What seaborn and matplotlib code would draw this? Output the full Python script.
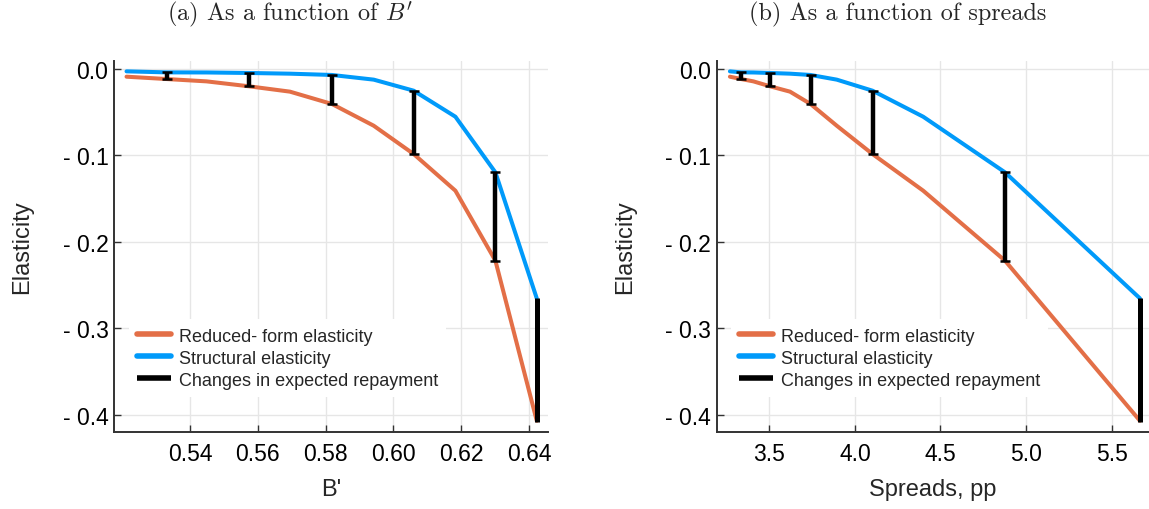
import numpy as np
import pandas as pd
import seaborn as sns
import matplotlib.pyplot as plt
from matplotlib.ticker import FuncFormatter

# values
b_prime = [0.5213, 0.5331, 0.5449, 0.5574, 0.5695, 0.5819, 0.5942, 0.6060, 0.6183, 0.6301, 0.6423]
spreads = [3.270, 3.335, 3.407, 3.504, 3.621, 3.741, 3.894, 4.103, 4.399, 4.877, 5.665]
reduced_form = [-0.0089, -0.0116, -0.0143, -0.0200, -0.0262, -0.0405, -0.0656, -0.0984, -0.1408, -0.2218, -0.4070]
structural = [-0.0027, -0.0039, -0.0040, -0.0046, -0.0054, -0.0069, -0.0123, -0.0251, -0.0552, -0.1196, -0.2654]
bar_idx = [1, 3, 5, 7, 9, 10]

titles = ["(a) As a function of $B'$", "(b) As a function of spreads"]
xlabels = ["B'", "Spreads, pp"]

sns.set_theme(style="white")
plt.rcParams['font.family'] = ['Liberation Sans', 'DejaVu Sans']
plt.rcParams['mathtext.fontset'] = 'cm'

colors = {
    'reduced': "#E36F47",
    'structural': "#009AFA",
    'bars': "black",
}

df = pd.DataFrame({
    'B': b_prime,
    'Spreads': spreads,
    'Reduced': reduced_form,
    'Structural': structural,
})

fig = plt.figure(figsize=(11.49, 5.10), dpi=100)
ax1 = fig.add_axes([0.0992, 0.151, 0.3777, 0.728])
ax2 = fig.add_axes([0.6238, 0.151, 0.3762, 0.728])

setup = [
    (ax1, 'B', (0.5176, 0.6456), [0.54, 0.56, 0.58, 0.60, 0.62, 0.64], "{:.2f}", 0.035),
    (ax2, 'Spreads', (3.193, 5.718), [3.5, 4.0, 4.5, 5.0, 5.5], "{:.1f}", 0.033),
]

for ax, xcol, xlim, xticks, fmt, leg_x in setup:
    sns.lineplot(data=df, x=xcol, y='Reduced', ax=ax, color=colors['reduced'],
                 linewidth=2.9, label='Reduced- form elasticity', sort=False)
    sns.lineplot(data=df, x=xcol, y='Structural', ax=ax, color=colors['structural'],
                 linewidth=2.9, label='Structural elasticity', sort=False)

    sub = df.iloc[bar_idx]
    capped = sub.iloc[:-1]
    last = sub.iloc[-1:]
    ax.errorbar(capped[xcol], capped['Reduced'],
                yerr=[np.zeros(len(capped)), capped['Structural'] - capped['Reduced']],
                fmt='none', ecolor=colors['bars'], elinewidth=3.2, capsize=3.5, capthick=1.8,
                zorder=4)
    ax.vlines(last[xcol], last['Reduced'] - 0.002, last['Structural'], color=colors['bars'],
              linewidth=3.6, zorder=4, label='Changes in expected repayment')

    ax.set_xlim(*xlim)
    ax.set_ylim(-0.420, 0.0096)
    ax.set_xticks(xticks)
    ax.set_yticks([0.0, -0.1, -0.2, -0.3, -0.4])
    ax.xaxis.set_major_formatter(FuncFormatter(lambda v, p, f=fmt: f.format(v)))
    ax.yaxis.set_major_formatter(FuncFormatter(lambda v, p: f"- {abs(v):.1f}" if v < -1e-9 else "0.0"))
    ax.tick_params(axis='both', direction='in', length=5, width=1, color='#333333',
                   labelsize=16.5, labelcolor='black', left=True, bottom=True)
    ax.tick_params(axis='y', pad=4)
    ax.tick_params(axis='x', pad=7)
    ax.grid(True, color='#e6e6e6', linewidth=1)
    ax.set_axisbelow(True)
    for s in ['top', 'right']:
        ax.spines[s].set_visible(False)
    for s in ['left', 'bottom']:
        ax.spines[s].set_color('#333333')
        ax.spines[s].set_linewidth(1.4)
    ax.set_ylabel('Elasticity', fontsize=17)
    ax.yaxis.set_label_coords(-0.187, 0.5)

    leg = ax.legend(loc='upper left', bbox_to_anchor=(leg_x, 0.303), borderaxespad=0,
                    fontsize=13, frameon=True, facecolor='white', edgecolor='none',
                    framealpha=1, handlelength=1.85, handletextpad=0.45, labelspacing=0.28,
                    borderpad=0.45, fancybox=False)
    leg.set_zorder(1.5)
    for line in leg.get_lines():
        line.set_linewidth(4)

for ax, lab in zip([ax1, ax2], xlabels):
    ax.set_xlabel(lab, fontsize=17, va='top')
    ax.xaxis.set_label_coords(0.5, -0.125)

fig.text(0.252, 0.972, titles[0], ha='center', va='center', fontsize=17.5, family='cmr10')
fig.text(0.781, 0.972, titles[1], ha='center', va='center', fontsize=17.5, family='cmr10')

fig.savefig('out.png', dpi=100)
